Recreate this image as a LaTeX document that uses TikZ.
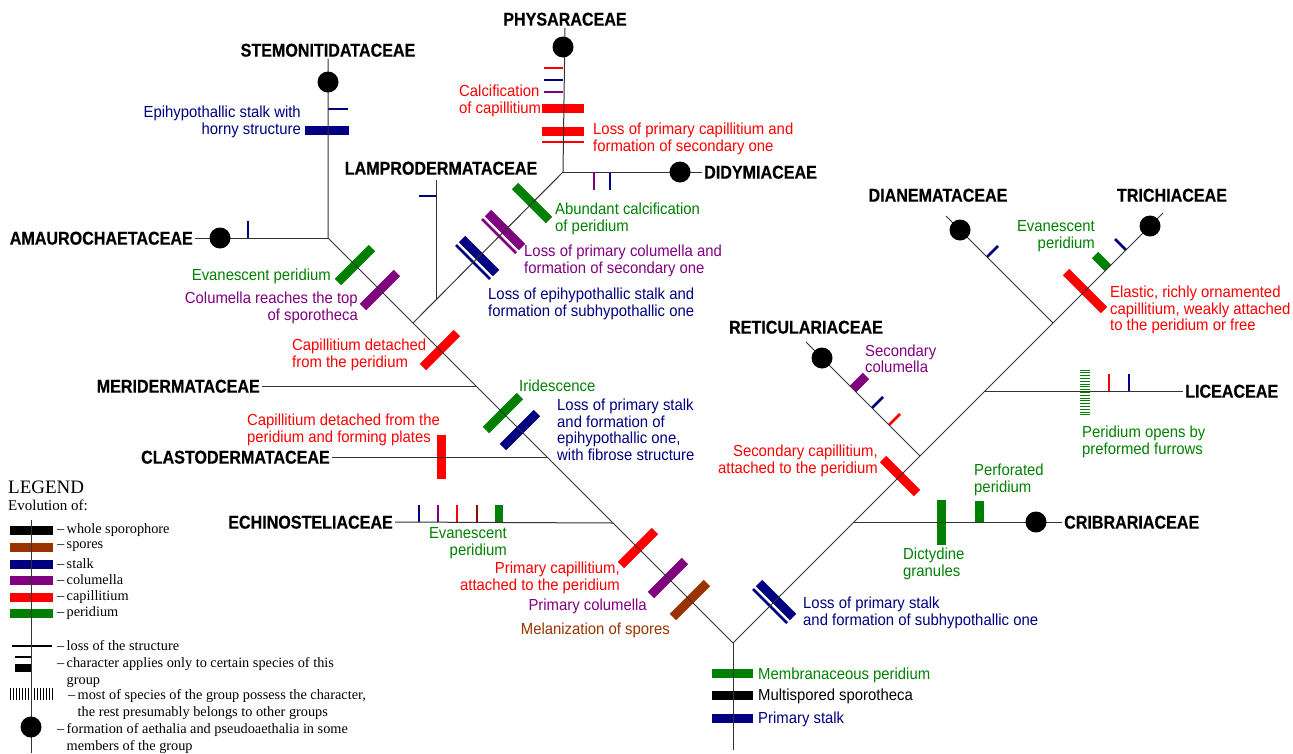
\documentclass[tikz,border=0pt]{standalone}
\usepackage{fontspec}
\setmainfont{Liberation Serif}
\newfontfamily\notefont[FakeStretch=0.93]{Liberation Sans}
\newfontfamily\famfont[FakeStretch=0.87,FakeBold=0.5]{Liberation Sans}
\definecolor{stalk}{HTML}{000080}
\definecolor{columella}{HTML}{800080}
\definecolor{capil}{HTML}{FF0000}
\definecolor{peridium}{HTML}{008000}
\definecolor{spores}{HTML}{993300}
\definecolor{maroon}{HTML}{8B0A0A}
\tikzset{
  rama/.style={line width=1pt,black!80},
  fam/.style={font=\famfont\bfseries\fontsize{18.5}{18.5}\selectfont,
    text height=13.2pt,text depth=0pt,inner sep=2pt},
  nota/.style={font=\notefont\fontsize{16}{16.5}\selectfont,inner sep=0pt},
  leyenda/.style={anchor=west,inner sep=0pt,align=left,
    font=\fontsize{14.3}{17}\selectfont},
  trait/.style={line width=9pt},
  lost/.style={line width=2.8pt}
}
\begin{document}
\begin{tikzpicture}[x=1pt,y=-1pt]
\useasboundingbox (0,0) rectangle (1293,753);
%
% nudos
\coordinate (root) at (733,643);
\coordinate (base) at (733,750);
\coordinate (jE) at (613,523);
\coordinate (jC) at (547,457);
\coordinate (jM) at (476,386);
\coordinate (jB) at (413,323);
\coordinate (jS) at (328,238);
\coordinate (jL) at (436,299);
\coordinate (jP) at (563,172);
\coordinate (jCr) at (854,522);
\coordinate (jR) at (920,456);
\coordinate (jLi) at (985,391);
\coordinate (jD) at (1053,323);
\coordinate (lampEnd) at (436,180);
\coordinate (dianEnd) at (946,216);
\coordinate (trichEnd) at (1163,213);
\coordinate (retEnd) at (806,342);
%
% familias
\node[fam] (stem) at (328,50) {STEMONITIDATACEAE};
\node[fam] (phys) at (565,19) {PHYSARACEAE};
\node[fam] (lamp) at (441,168) {LAMPRODERMATACEAE};
\node[fam,anchor=east] (amau) at (195,238) {AMAUROCHAETACEAE};
\node[fam,anchor=west] (didy) at (702,172) {DIDYMIACEAE};
\node[fam,anchor=east] (meri) at (262,386) {MERIDERMATACEAE};
\node[fam,anchor=east] (clas) at (332,457) {CLASTODERMATACEAE};
\node[fam,anchor=east] (echi) at (395,522) {ECHINOSTELIACEAE};
\node[fam] (dian) at (938,195) {DIANEMATACEAE};
\node[fam] (tric) at (1172,195) {TRICHIACEAE};
\node[fam] (reti) at (806,327) {RETICULARIACEAE};
\node[fam,anchor=west] (lice) at (1183,391) {LICEACEAE};
\node[fam,anchor=west] (crib) at (1062,522) {CRIBRARIACEAE};
%
% caracteres del tallo principal
\draw[trait,peridium] (712,673) -- (753,673);
\draw[trait,black] (712,695) -- (753,695);
\draw[trait,stalk] (712,718) -- (753,718);
%
% rama izquierda
\foreach \c/\col in {355/peridium,380/columella,440/capil,503/peridium,
  520/stalk,638/capil,668/columella,690/spores}
  \draw[trait,\col] (\c,\c-90) ++(-17,17) -- ++(34,-34);
\foreach \c/\col in {479/stalk,505/columella}{
  \draw[trait,\col] (\c,735-\c) ++(-17,-17) -- ++(34,34);
  \draw[lost,\col] (\c-6,741-\c) ++(-17,-17) -- ++(34,34);
}
\draw[trait,peridium] (532,203) ++(-17,-17) -- ++(34,34);
%
% physaraceae, stemonitidataceae
\foreach \y/\col in {68/capil,80/stalk,92/columella}
  \draw[lost,\col] (544,\y) -- (563,\y);
\draw[trait,capil] (542,108) -- (584,108);
\draw[trait,capil] (542,131) -- (584,131);
\draw[lost,capil] (542,142) -- (584,142);
\draw[lost,stalk] (328,109) -- (348,109);
\draw[trait,stalk] (305,130) -- (349,130);
\draw[lost,stalk] (419,196) -- (436,196);
\draw[lost,stalk] (248,221) -- (248,238);
\foreach \x/\col in {594/columella,610/stalk}
  \draw[lost,\col] (\x,172) -- (\x,190);
\draw[trait,capil] (441,435) -- (441,479);
\foreach \x/\col in {419/stalk,438/columella,457/capil,477/maroon}
  \draw[lost,\col] (\x,505) -- (\x,522);
\draw[line width=8pt,peridium] (499,505) -- (499,522);
%
% rama derecha
\draw[trait,stalk] (776,600) ++(-17,-17) -- ++(34,34);
\draw[lost,stalk] (770,606) ++(-17,-17) -- ++(34,34);
\draw[trait,capil] (900,476) ++(-17,-17) -- ++(34,34);
\draw[trait,capil] (1085,291) ++(-19,-19) -- ++(38,38);
\draw[trait,peridium] (1108,268) -- ++(-13,-13);
\draw[lost,stalk] (1126,250) -- ++(-11,-11);
\draw[lost,stalk] (987,257) -- ++(11,-11);
\draw[trait,columella] (853,389) -- ++(13,-13);
\draw[lost,stalk] (872,408) -- ++(11,-11);
\draw[lost,capil] (889,425) -- ++(11,-11);
\foreach \y in {370,372.8,...,416}
  \draw[peridium,line width=1pt] (1080,\y) -- (1090,\y);
\draw[lost,capil] (1109,374) -- (1109,391);
\draw[lost,stalk] (1129,374) -- (1129,391);
\draw[trait,peridium] (941,500) -- (941,545);
\draw[trait,peridium] (979,501) -- (979,522);
%
% ramas
\draw[rama] (base) -- (root);
\draw[rama] (root) -- (jS) -- (stem.south);
\draw[rama] (jS) -- (amau.east);
\draw[rama] (jB) -- (jP) -- (phys.south);
\draw[rama] (jP) -- (didy.west);
\draw[rama] (jL) -- (lampEnd);
\draw[rama] (jM) -- (meri.east);
\draw[rama] (jC) -- (clas.east);
\draw[rama] (jE) -- (echi.east);
\draw[rama] (root) -- (trichEnd);
\draw[rama] (jD) -- (dianEnd);
\draw[rama] (jR) -- (retEnd);
\draw[rama] (jLi) -- (lice.west);
\draw[rama] (jCr) -- (crib.west);
\foreach \p in {(328,82),(563,47),(220,238),(680,172),(960,230),
  (1150,226),(822,358),(1036,522)}
  \fill \p circle (10.5pt);
%
% textos
\node[nota,text=stalk,align=right,anchor=east] (epihyp) at (301,122)
  {Epihypothallic stalk with\\horny structure};
\node[nota,text=capil,align=left,anchor=west] (calccap) at (459,101)
  {Calcification\\of capillitium};
\node[nota,text=capil,align=left,anchor=west] (seccap) at (593,139)
  {Loss of primary capillitium and\\formation of secondary one};
\node[nota,text=peridium,align=left,anchor=west] (calcper) at (555,219)
  {Abundant calcification\\of peridium};
\node[nota,text=columella,align=left,anchor=west] (seccol) at (524,261)
  {Loss of primary columella and\\formation of secondary one};
\node[nota,text=stalk,align=left,anchor=west] (subhyp) at (488,304)
  {Loss of epihypothallic stalk and\\formation of subhypothallic one};
\node[nota,text=peridium,anchor=east] (evan) at (331,276) {Evanescent peridium};
\node[nota,text=columella,align=right,anchor=east] (coltop) at (358,308)
  {Columella reaches the top\\of sporotheca};
\node[nota,text=capil,align=left,anchor=west] (capdet) at (292,355)
  {Capillitium detached\\from the peridium};
\node[nota,text=peridium,anchor=west] (irid) at (519,386) {Iridescence};
\node[nota,text=stalk,align=left,anchor=west] (epihyp2) at (557,430)
  {Loss of primary stalk\\and formation of\\epihypothallic one,\\with fibrose structure};
\node[nota,text=capil,align=left,anchor=west] (plates) at (247,430)
  {Capillitium detached from the\\peridium and forming plates};
\node[nota,text=peridium,align=right,anchor=east] (evan2) at (507,543)
  {Evanescent\\peridium};
\node[nota,text=capil,align=right,anchor=east] (primcap) at (620,578)
  {Primary capillitium,\\attached to the peridium};
\node[nota,text=columella,anchor=east] (primcol) at (647,606) {Primary columella};
\node[nota,text=spores,anchor=east] (melan) at (670,630) {Melanization of spores};
\node[nota,text=peridium,anchor=west] (membr) at (758,675) {Membranaceous peridium};
\node[nota,anchor=west] (multi) at (758,696) {Multispored sporotheca};
\node[nota,text=stalk,anchor=west] (primst) at (758,719) {Primary stalk};
\node[nota,text=stalk,align=left,anchor=west] (subhyp2) at (803,613)
  {Loss of primary stalk\\and formation of subhypothallic one};
\node[nota,text=capil,align=right,anchor=east] (seccap2) at (878,461)
  {Secondary capillitium,\\attached to the peridium};
\node[nota,text=peridium,align=left,anchor=west] (dicty) at (903,564)
  {Dictydine\\granules};
\node[nota,text=peridium,align=left,anchor=west] (perfor) at (974,480)
  {Perforated\\peridium};
\node[nota,text=peridium,align=left,anchor=west] (furrow) at (1082,442)
  {Peridium opens by\\preformed furrows};
\node[nota,text=columella,align=left,anchor=west] (seccol2) at (865,359)
  {Secondary\\columella};
\node[nota,text=peridium,align=right,anchor=east] (evan3) at (1095,236)
  {Evanescent\\peridium};
\node[nota,text=capil,align=left,anchor=west] (elastic) at (1110,310)
  {Elastic, richly ornamented\\capillitium, weakly attached\\to the peridium or free};
%
% leyenda
\node[anchor=west,inner sep=0pt,font=\fontsize{19}{19}\selectfont] (legend) at (8,487) {LEGEND};
\node[anchor=west,inner sep=0pt,font=\fontsize{15}{15}\selectfont] (evol) at (8,505) {Evolution of:};
\foreach \y/\col/\t in {530/black/whole sporophore,547/spores/spores,564/stalk/stalk,
  580/columella/columella,597/capil/capillitium,613/peridium/peridium}{
  \draw[trait,\col] (10,\y) -- (53,\y);
  \node[leyenda] at (57,\y) {–\,\t};
}
\draw[lost,black] (12,646) -- (52,646);
\draw[lost,black] (15,657) -- (31,657);
\draw[line width=8pt] (15,668) -- (31,668);
\foreach \x in {10,13,...,52}
  \draw[line width=0.8pt] (\x,688) -- (\x,700);
\draw[rama] (31,520) -- (31,753);
\fill (31,727) circle (10.5pt);
\node[leyenda] (lloss) at (57,646) {–\,loss of the structure};
\node[leyenda] (lchar) at (57,672)
  {–\,character applies only to certain species of this\\\hphantom{–\,}group};
\node[leyenda] (lmost) at (68,704)
  {–\,most of species of the group possess the character,\\\hphantom{–\,}the rest presumably belongs to other groups};
\node[leyenda] (laeth) at (57,738)
  {–\,formation of aethalia and pseudoaethalia in some\\\hphantom{–\,}members of the group};
\end{tikzpicture}
\end{document}
